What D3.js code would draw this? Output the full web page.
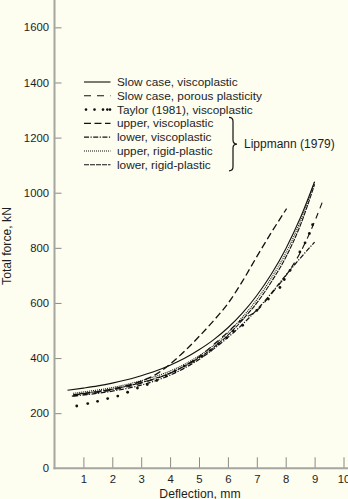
<!DOCTYPE html>
<html>
<head>
<meta charset="utf-8">
<script src="https://cdn.jsdelivr.net/npm/d3@7"></script>
<style>
  html, body { margin: 0; padding: 0; background: #fdfdf0; }
  svg { display: block; }
  text { font-family: "Liberation Sans", Arial, Helvetica, sans-serif; font-size: 11.8px; fill: #1e1e1e; }
</style>
</head>
<body>
<svg id="chart" width="348" height="499"></svg>
<script>
// Deflection (mm) / total force (kN) for each model
const slowViscoX = [0.45, 1, 1.5, 2, 2.5, 3, 3.5, 4, 4.5, 5, 5.5, 6, 6.5, 7, 7.5, 8, 8.5, 9];
const slowViscoF = [283, 291, 299, 309, 321, 336, 353, 374, 399, 430, 466, 510, 563, 627, 704, 796, 907, 1040];

const porousX = [0.6, 1, 2, 3, 4, 5, 5.8, 6.5, 7, 7.5, 8, 8.5, 9, 9.3];
const porousF = [262, 267, 284, 309, 345, 405, 476, 540, 572, 632, 698, 782, 895, 975];

const taylorX = [0.77, 1.15, 1.49, 1.84, 2.19, 2.53, 2.87, 3.21, 3.54, 3.86, 4.17, 4.49, 4.8, 5.11, 5.4, 5.67, 5.96, 6.19, 6.51, 7.0, 7.4, 7.8, 7.95, 8.15, 8.49, 8.67, 8.82, 8.93];
const taylorF = [226, 235, 243, 253, 262, 276, 291, 304, 319, 336, 353, 371, 388, 407, 428, 452, 474, 498, 519, 573, 614, 656, 685, 718, 785, 818, 852, 884];

const upperViscoX = [0.65, 1, 2, 3, 3.5, 4, 4.5, 5, 5.5, 6, 6.5, 7, 7.5, 8.03];
const upperViscoF = [266, 271, 288, 316, 340, 378, 425, 478, 535, 598, 678, 768, 855, 942];

const lowerViscoX = [0.65, 1, 2, 3, 4, 5, 6, 6.5, 7, 7.5, 8, 8.5, 9];
const lowerViscoF = [262, 266, 280, 302, 338, 395, 475, 522, 575, 635, 700, 762, 821];

const upperRigidX = [0.65, 1, 2, 3, 4, 5, 6, 6.5, 7, 7.5, 8, 8.5, 9];
const upperRigidF = [272, 277, 293, 318, 353, 408, 492, 548, 612, 690, 780, 895, 1040];

const lowerRigidX = [0.65, 1, 2, 3, 4, 5, 6, 6.5, 7, 7.5, 8, 8.5, 9];
const lowerRigidF = [267, 272, 287, 311, 346, 401, 483, 538, 600, 676, 765, 880, 1030];

const xTicks = [1, 2, 3, 4, 5, 6, 7, 8, 9, 10];
const yTicks = [0, 200, 400, 600, 800, 1000, 1200, 1400, 1600];

const legendLabels = [
  "Slow case, viscoplastic",
  "Slow case, porous plasticity",
  "Taylor (1981), viscoplastic",
  "upper, viscoplastic",
  "lower, viscoplastic",
  "upper, rigid-plastic",
  "lower, rigid-plastic"
];
const groupLabel = "Lippmann (1979)";
const xTitle = "Deflection, mm";
const yTitle = "Total force, kN";

// ---------------------------------------------------------------
const svg = d3.select("#chart");
const x = d3.scaleLinear().domain([0, 10]).range([54.5, 343.5]);
const y = d3.scaleLinear().domain([0, 1700]).range([468.3, -0.2]);

// axes
const axisColor = "#a6a6a0";
const tickFont = "11.3px";
const yAxis = svg.append("g")
  .attr("transform", `translate(${x(0)},0)`)
  .call(d3.axisLeft(y).tickValues(yTicks).tickFormat(d3.format("d"))
    .tickSizeInner(-7).tickSizeOuter(0).tickPadding(5.5));
yAxis.select(".domain").remove();
yAxis.selectAll(".tick line").attr("stroke", "#8a8a86").attr("stroke-width", 1);
yAxis.selectAll(".tick text").style("font-size", tickFont).attr("fill", "#1e1e1e");
yAxis.selectAll(".tick").filter(d => d === 0).select("line").remove();

const xAxis = svg.append("g")
  .attr("transform", `translate(0,${y(0)})`)
  .call(d3.axisBottom(x).tickValues(xTicks).tickFormat(d3.format("d"))
    .tickSizeInner(-11).tickSizeOuter(0).tickPadding(7));
xAxis.select(".domain").remove();
xAxis.selectAll(".tick line").attr("stroke", "#8a8a86").attr("stroke-width", 1);
xAxis.selectAll(".tick text").style("font-size", tickFont).attr("fill", "#1e1e1e");

svg.append("line")
  .attr("x1", x(0)).attr("x2", x(0)).attr("y1", 0).attr("y2", y(0) + 1)
  .attr("stroke", axisColor).attr("stroke-width", 2);
svg.append("line")
  .attr("x1", x(0) - 1).attr("x2", 348).attr("y1", y(0)).attr("y2", y(0))
  .attr("stroke", axisColor).attr("stroke-width", 2);

// axis titles
svg.append("text")
  .attr("x", 200).attr("y", 497.5)
  .attr("text-anchor", "middle").style("font-size", "12.2px").text(xTitle);
svg.append("text")
  .attr("transform", "translate(10.5,246) rotate(-90)")
  .attr("text-anchor", "middle").style("font-size", "12.2px").text(yTitle);

// curves
const styles = [
  { xs: slowViscoX, fs: slowViscoF, dash: null, w: 1.1 },
  { xs: porousX, fs: porousF, dash: "6,5", w: 1.1 },
  null,
  { xs: upperViscoX, fs: upperViscoF, dash: "7,3.5", w: 1.3 },
  { xs: lowerViscoX, fs: lowerViscoF, dash: "5,1.5,1.2,1.5", w: 1.2 },
  { xs: upperRigidX, fs: upperRigidF, dash: "1,1", w: 1.1 },
  { xs: lowerRigidX, fs: lowerRigidF, dash: "5,1", w: 1.1 }
];

const line = d3.line().x(d => x(d[0])).y(d => y(d[1])).curve(d3.curveMonotoneX);
const plot = svg.append("g");
styles.forEach(s => {
  if (!s) return;
  plot.append("path")
    .datum(s.xs.map((v, i) => [v, s.fs[i]]))
    .attr("d", line)
    .attr("fill", "none")
    .attr("stroke", "#111")
    .attr("stroke-width", s.w)
    .attr("stroke-dasharray", s.dash);
});

plot.selectAll("circle.taylor")
  .data(taylorX.map((v, i) => [v, taylorF[i]]))
  .join("circle")
  .attr("class", "taylor")
  .attr("cx", d => x(d[0])).attr("cy", d => y(d[1]))
  .attr("r", 1.4).attr("fill", "#111");

// legend
const legend = svg.append("g");
const lx0 = 84, lx1 = 110.5, ltx = 117, ly0 = 82, ldy = 13.8;
legendLabels.forEach((lab, i) => {
  const yy = ly0 + i * ldy;
  if (i === 2) {
    [86, 94.5, 103, 107.3, 110].forEach(cx => {
      legend.append("circle").attr("cx", cx).attr("cy", yy).attr("r", 1.3).attr("fill", "#111");
    });
  } else {
    const s = styles[i];
    legend.append("line")
      .attr("x1", lx0).attr("x2", lx1).attr("y1", yy).attr("y2", yy)
      .attr("stroke", "#111").attr("stroke-width", s.w)
      .attr("stroke-dasharray", i === 1 ? "7,6" : s.dash);
  }
  legend.append("text").attr("x", ltx).attr("y", yy + 4).text(lab);
});

// brace grouping the Lippmann entries
const bTop = ly0 + 3 * ldy - 6, bBot = ly0 + 6 * ldy + 6, bMid = (bTop + bBot) / 2;
legend.append("path")
  .attr("d", `M229,${bTop} Q233,${bTop} 233,${bTop + 4} L233,${bMid - 4} Q233,${bMid} 237,${bMid}` +
             ` Q233,${bMid} 233,${bMid + 4} L233,${bBot - 4} Q233,${bBot} 229,${bBot}`)
  .attr("fill", "none").attr("stroke", "#111").attr("stroke-width", 1.2);
legend.append("text").attr("x", 244).attr("y", bMid + 4).style("font-size", "12px").text(groupLabel);
</script>
</body>
</html>
